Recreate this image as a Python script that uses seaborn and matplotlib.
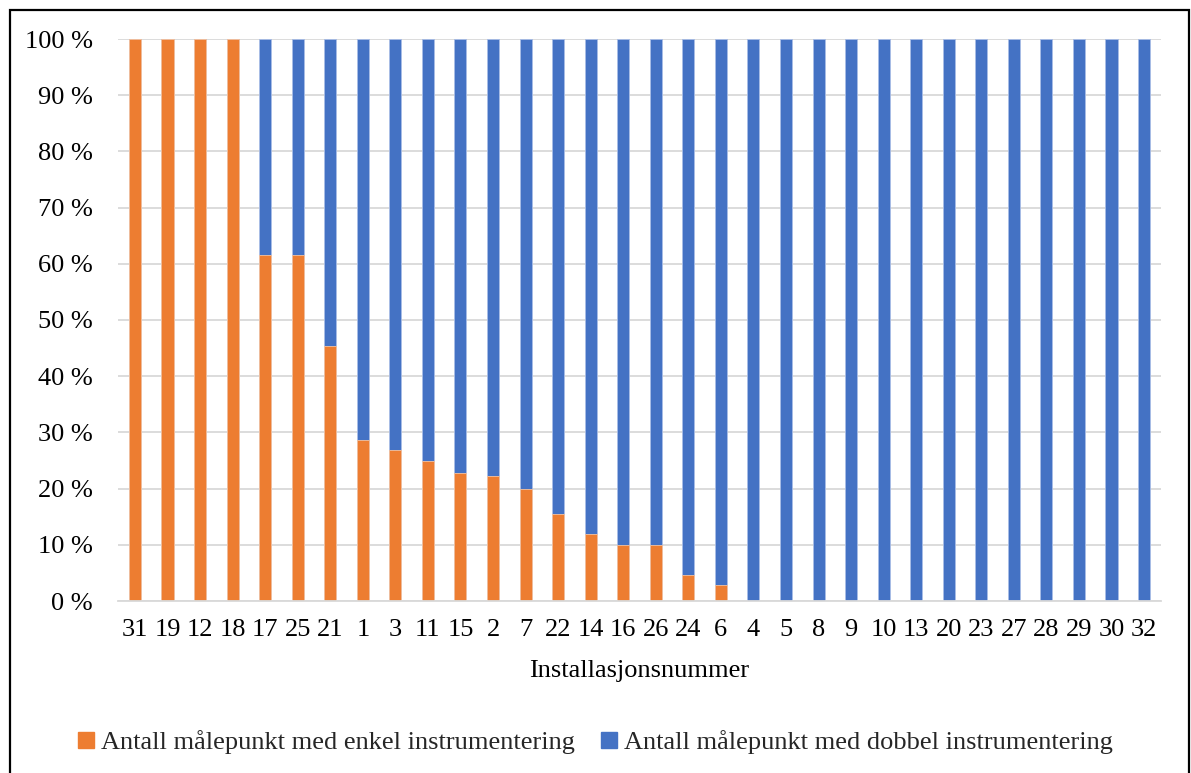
import matplotlib
matplotlib.use("Agg")
import matplotlib.pyplot as plt
import seaborn as sns
import pandas as pd
from matplotlib.patches import Rectangle
from matplotlib.lines import Line2D

# Installation numbers, sorted by share of single-instrumented measuring points
installasjon = ["31", "19", "12", "18", "17", "25", "21", "1", "3", "11", "15",
                "2", "7", "22", "14", "16", "26", "24", "6", "4", "5", "8", "9",
                "10", "13", "20", "23", "27", "28", "29", "30", "32"]

# Share (%) of measuring points with single instrumentation
enkel = [100, 100, 100, 100, 61.5, 61.5, 45.3, 28.6, 26.9, 25.0, 22.8,
         22.2, 20.0, 15.4, 12.0, 10.0, 10.0, 4.7, 2.8, 0, 0, 0, 0,
         0, 0, 0, 0, 0, 0, 0, 0, 0]

# Share (%) of measuring points with double instrumentation
dobbel = [0, 0, 0, 0, 38.5, 38.5, 54.7, 71.4, 73.1, 75.0, 77.2,
          77.8, 80.0, 84.6, 88.0, 90.0, 90.0, 95.3, 97.2, 100, 100, 100, 100,
          100, 100, 100, 100, 100, 100, 100, 100, 100]

yticks = [0, 10, 20, 30, 40, 50, 60, 70, 80, 90, 100]

label_enkel = "Antall målepunkt med enkel instrumentering"
label_dobbel = "Antall målepunkt med dobbel instrumentering"

ORANGE = "#ED7D31"
BLUE = "#4472C4"
GRID = "#D9D9D9"
FS = 19

sns.set_theme(style="white")
plt.rcParams["font.family"] = ["Liberation Serif", "DejaVu Serif"]

df = pd.DataFrame({"inst": installasjon, "enkel": enkel, "dobbel": dobbel})
df["total"] = df["enkel"] + df["dobbel"]

W, H = 1191, 773
fig = plt.figure(figsize=(W / 100, H / 100), dpi=100)
ax = fig.add_axes([118 / W, 1 - 601 / H, (1161 - 118) / W, (601 - 39) / H])

# Stacked 100% bars: full-height blue, orange share drawn over the bottom part
sns.barplot(data=df, x="inst", y="total", order=installasjon, color=BLUE,
            saturation=1, width=0.37, edgecolor="#A9BDE6", linewidth=0.6, ax=ax)
sns.barplot(data=df, x="inst", y="enkel", order=installasjon, color=ORANGE,
            saturation=1, width=0.37, edgecolor="#F6C3A0", linewidth=0.6, ax=ax)

ax.set_ylim(0, 100)
ax.set_xlim(-0.52, len(installasjon) - 0.48)
ax.set_yticks(yticks)
ax.set_yticklabels([f"{v} %" for v in yticks], fontsize=FS, color="black")
ax.tick_params(axis="x", labelsize=FS, labelcolor="black", length=0, pad=13)
ax.tick_params(axis="y", length=0, pad=18)
ax.yaxis.grid(True, color=GRID, linewidth=1.3)
ax.set_axisbelow(True)
for side in ["top", "right", "left"]:
    ax.spines[side].set_visible(False)
ax.spines["bottom"].set_color(GRID)
ax.spines["bottom"].set_linewidth(1.3)

ax.set_xlabel("Installasjonsnummer", fontsize=FS, color="black", labelpad=14)
ax.set_ylabel("")

handles = [
    Line2D([], [], marker="s", linestyle="", markersize=12, color=ORANGE),
    Line2D([], [], marker="s", linestyle="", markersize=12, color=BLUE),
]
fig.legend(handles, [label_enkel, label_dobbel], loc="center",
           bbox_to_anchor=(0.5, 1 - 742 / H), ncol=2, frameon=False,
           fontsize=FS, handlelength=0.6, handletextpad=0.25,
           columnspacing=1.0)

# Outer frame around the chart
fig.add_artist(Rectangle((10 / W, -0.05), 1179 / W, 1 - 10 / H + 0.05,
                         transform=fig.transFigure, fill=False,
                         edgecolor="black", linewidth=1.6, clip_on=False))

fig.savefig("out.png", dpi=100, facecolor="white")
